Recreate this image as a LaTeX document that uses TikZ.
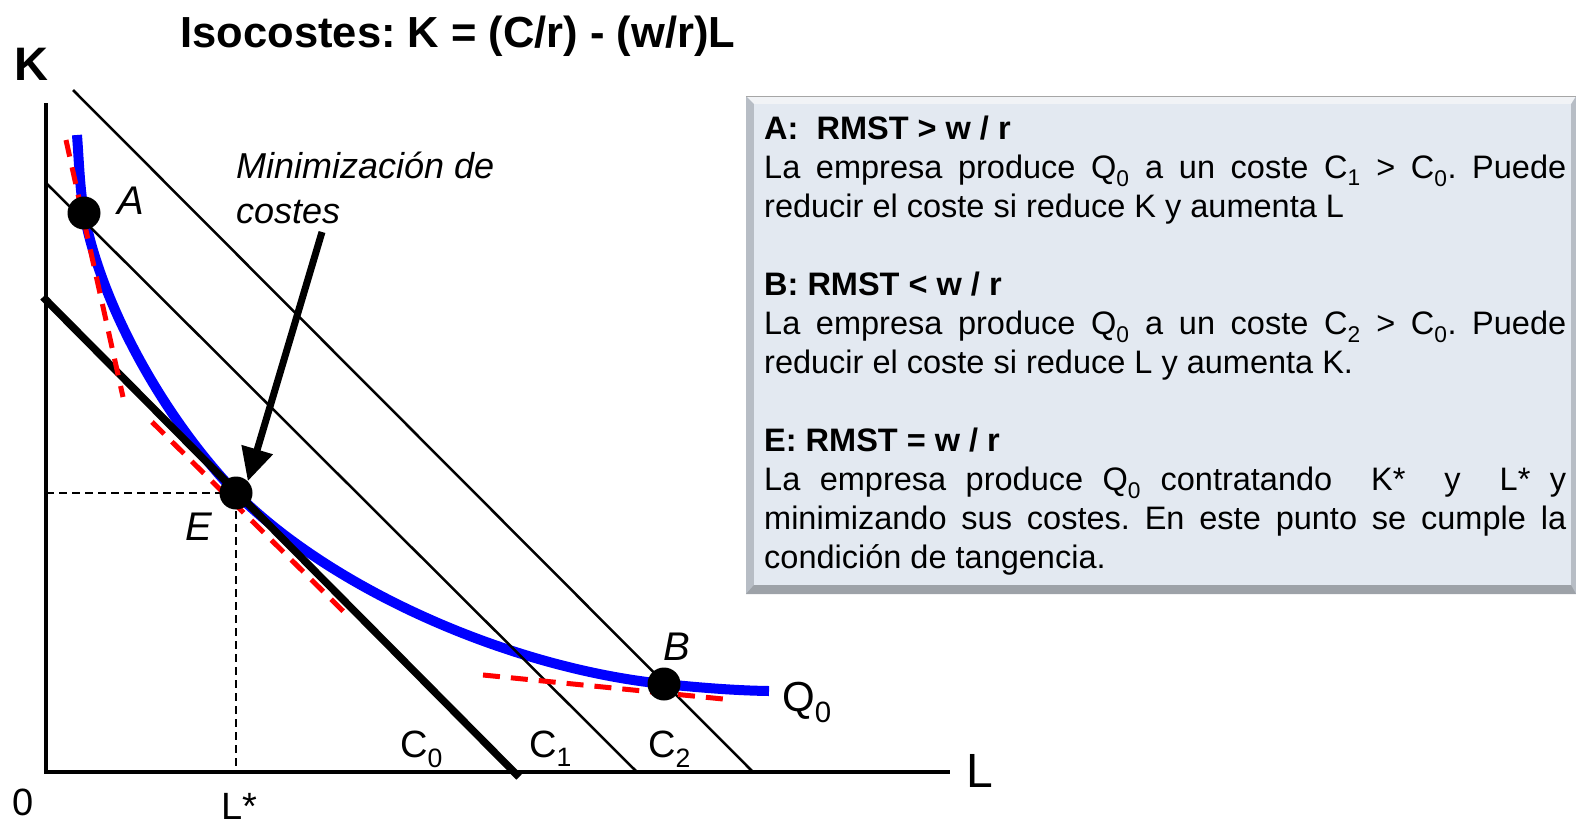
\documentclass[tikz,border=0pt]{standalone}
\usepackage{fontspec}
\setmainfont{Liberation Sans}
\usetikzlibrary{arrows.meta}
\definecolor{boxfill}{HTML}{E3E9F1}
\definecolor{boxedge}{HTML}{B7BDC5}
\definecolor{boxtop}{HTML}{F1F3F6}
\definecolor{boxbot}{HTML}{9DA2A8}
\definecolor{qblue}{HTML}{0000FF}
\definecolor{tred}{HTML}{FF0000}
\frenchspacing
\begin{document}
\begin{tikzpicture}[x=1pt,y=-1pt,
  axis/.style={line width=4.5pt},
  iso/.style={line width=2.5pt},
  isothick/.style={line width=7.5pt},
  guide/.style={line width=1.8pt, dash pattern=on 8pt off 5pt},
  tang/.style={tred, line width=5pt, dash pattern=on 17pt off 11pt},
  dot/.style={circle, fill=black, minimum size=33pt, inner sep=0pt},
  lbl/.style={inner sep=0pt},
  ital/.style={lbl, font=\itshape\fontsize{40}{40}\selectfont},
  big/.style={lbl, font=\fontsize{38}{38}\selectfont},
]
\useasboundingbox (0,0) rectangle (1576,825);

% title and axis labels
\node[lbl, anchor=base, font=\bfseries\fontsize{43.5}{43.5}\selectfont] (title) at (458,47) {Isocostes: K = (C/r) - (w/r)L};
\node[lbl, anchor=base west, font=\bfseries\fontsize{47}{47}\selectfont] (Klab) at (14,80) {K};
\node[lbl, anchor=base west, font=\fontsize{48}{48}\selectfont] (Llab) at (966,787) {L};
\node[big, anchor=base west] (zero) at (12,815) {0};
\node[big, anchor=base west] (Lstar) at (221,819) {L*};

% axes
\coordinate (Ktop) at (46,103);
\coordinate (O) at (46,772);
\coordinate (Lend) at (950,772);
\draw[axis] (Ktop) -- (O) -- (Lend);

% points
\coordinate (Ep) at (236,493);
\coordinate (Ap) at (84,213);
\coordinate (Bp) at (664,684);
\coordinate (Qtop) at (77,135);
\coordinate (Qend) at (769,691);

% guides
\coordinate (Kstar) at (46,493);
\coordinate (LstarA) at (236,772);
\draw[guide] (Kstar) -- (Ep) -- (LstarA);

% Q0 isoquant
\draw[qblue, line width=10pt] (Qtop)
  .. controls (79,161) and (79.7,187.4) .. (Ap)
  .. controls (101,305) and (164,418) .. (Ep)
  .. controls (333,590) and (510,668) .. (Bp)
  .. controls (699,687.5) and (734,690.5) .. (Qend);

% isocost lines
\coordinate (C0a) at (43,297);
\coordinate (C0b) at (519,777);
\coordinate (C1a) at (45,182);
\coordinate (C1b) at (637,772);
\coordinate (C2a) at (73,90);
\coordinate (C2b) at (753,772);
\draw[isothick] (C0a) -- (C0b);
\draw[iso] (C1a) -- (C1b);
\draw[iso] (C2a) -- (C2b);

% tangents
\coordinate (TAa) at (66,140);
\coordinate (TAb) at (123,397);
\coordinate (TEa) at (152,422);
\coordinate (TEb) at (345,613);
\coordinate (TBa) at (483,675);
\coordinate (TBb) at (733,700);
\draw[tang] (TAa) -- (TAb);
\draw[tang] (TEa) -- (TEb);
\draw[tang] (TBa) -- (TBb);

% dots
\node[dot] (A) at (Ap) {};
\node[dot] (E) at (Ep) {};
\node[dot] (B) at (Bp) {};

% labels of points
\node[ital] (Alab) at (131,201) {A};
\node[ital] (Blab) at (677,647) {B};
\node[ital] (Elab) at (199,527) {E};

\node[lbl, anchor=base west, font=\fontsize{42}{42}\selectfont] (Qlab) at (782,711) {Q\textsubscript{0}};
\node[big, anchor=base west] (C0lab) at (400,757) {C\textsubscript{0}};
\node[big, anchor=base west] (C1lab) at (529,757) {C\textsubscript{1}};
\node[big, anchor=base west] (C2lab) at (648,757) {C\textsubscript{2}};

% annotation
\node[lbl, anchor=base west, font=\itshape\fontsize{36}{36}\selectfont] (min1) at (236,178) {Minimización de};
\node[lbl, anchor=base west, font=\itshape\fontsize{36}{36}\selectfont] (min2) at (236,223) {costes};
\coordinate (arrS) at (322,232);
\draw[line width=7pt, -{Triangle[length=33pt,width=31pt]}] (arrS) -- (E.north east);

% text box
\fill[boxedge] (746,96) rectangle (1576,594);
\fill[boxtop] (746,96) -- (1576,96) -- (1571,104) -- (754,104) -- cycle;
\fill[boxbot] (746,594) -- (1576,594) -- (1571,585) -- (754,585) -- cycle;
\draw[gray!70, line width=1pt] (746,96.5) -- (1576,96.5);
\fill[boxfill] (754,104) rectangle (1571,585);
\node[anchor=north west, text width=802pt, align=justify, inner sep=0pt,
      font=\fontsize{32.5}{39}\selectfont] (boxtext) at (764,116) {%
{\bfseries A:\ \ RMST > w / r}\par
La empresa produce Q\textsubscript{0} a un coste C\textsubscript{1} > C\textsubscript{0}. Puede\linebreak
reducir el coste si reduce K y aumenta L\par
\vspace{39pt}
{\bfseries B: RMST < w / r}\par
La empresa produce Q\textsubscript{0} a un coste C\textsubscript{2} > C\textsubscript{0}. Puede\linebreak
reducir el coste si reduce L y aumenta K.\par
\vspace{39pt}
{\bfseries E: RMST = w / r}\par
La empresa produce Q\textsubscript{0} contratando\ \ K*\ \ y\ \ L* y\linebreak
minimizando sus costes. En este punto se cumple la\linebreak
condición de tangencia.\par};
\end{tikzpicture}
\end{document}
